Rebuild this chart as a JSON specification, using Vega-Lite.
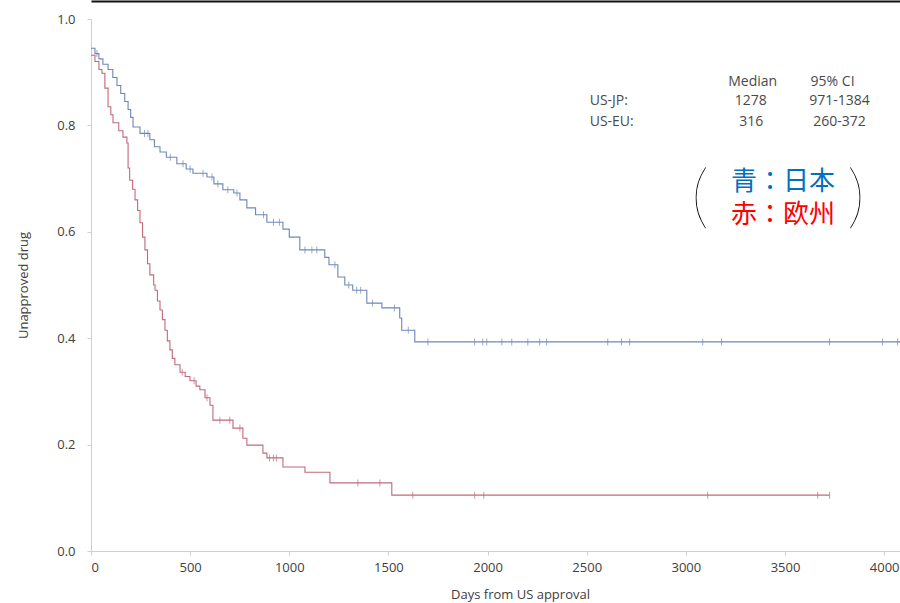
{
  "$schema": "https://vega.github.io/schema/vega-lite/v6.json",
  "width": 809,
  "height": 532,
  "autosize": {"type": "none"},
  "padding": {"left": 91, "top": 19, "right": 0, "bottom": 52},
  "background": "white",
  "config": {"view": {"stroke": null}, "font": "Open Sans"},
  "datasets": {
    "curves": [
      {"group": "US-JP", "day": 0, "surv": 0.945}, {"group": "US-JP", "day": 20, "surv": 0.935}, {"group": "US-JP", "day": 40, "surv": 0.925}, {"group": "US-JP", "day": 60, "surv": 0.915}, {"group": "US-JP", "day": 86, "surv": 0.905}, {"group": "US-JP", "day": 110, "surv": 0.89}, {"group": "US-JP", "day": 131, "surv": 0.875}, {"group": "US-JP", "day": 150, "surv": 0.86}, {"group": "US-JP", "day": 170, "surv": 0.845}, {"group": "US-JP", "day": 187, "surv": 0.83}, {"group": "US-JP", "day": 200, "surv": 0.815}, {"group": "US-JP", "day": 212, "surv": 0.797}, {"group": "US-JP", "day": 247, "surv": 0.785}, {"group": "US-JP", "day": 297, "surv": 0.773}, {"group": "US-JP", "day": 320, "surv": 0.76}, {"group": "US-JP", "day": 348, "surv": 0.75}, {"group": "US-JP", "day": 380, "surv": 0.74}, {"group": "US-JP", "day": 433, "surv": 0.728}, {"group": "US-JP", "day": 480, "surv": 0.718}, {"group": "US-JP", "day": 514, "surv": 0.71}, {"group": "US-JP", "day": 585, "surv": 0.703}, {"group": "US-JP", "day": 620, "surv": 0.69}, {"group": "US-JP", "day": 665, "surv": 0.679}, {"group": "US-JP", "day": 720, "surv": 0.673}, {"group": "US-JP", "day": 751, "surv": 0.66}, {"group": "US-JP", "day": 786, "surv": 0.645}, {"group": "US-JP", "day": 830, "surv": 0.632}, {"group": "US-JP", "day": 887, "surv": 0.618}, {"group": "US-JP", "day": 968, "surv": 0.605}, {"group": "US-JP", "day": 1000, "surv": 0.59}, {"group": "US-JP", "day": 1053, "surv": 0.566}, {"group": "US-JP", "day": 1179, "surv": 0.552}, {"group": "US-JP", "day": 1200, "surv": 0.538}, {"group": "US-JP", "day": 1245, "surv": 0.515}, {"group": "US-JP", "day": 1280, "surv": 0.5}, {"group": "US-JP", "day": 1320, "surv": 0.49}, {"group": "US-JP", "day": 1391, "surv": 0.466}, {"group": "US-JP", "day": 1467, "surv": 0.457}, {"group": "US-JP", "day": 1557, "surv": 0.438}, {"group": "US-JP", "day": 1567, "surv": 0.415}, {"group": "US-JP", "day": 1633, "surv": 0.393}, {"group": "US-JP", "day": 4080, "surv": 0.393},
      {"group": "US-EU", "day": 0, "surv": 0.932}, {"group": "US-EU", "day": 20, "surv": 0.92}, {"group": "US-EU", "day": 40, "surv": 0.905}, {"group": "US-EU", "day": 55, "surv": 0.898}, {"group": "US-EU", "day": 70, "surv": 0.87}, {"group": "US-EU", "day": 86, "surv": 0.835}, {"group": "US-EU", "day": 100, "surv": 0.82}, {"group": "US-EU", "day": 111, "surv": 0.805}, {"group": "US-EU", "day": 140, "surv": 0.79}, {"group": "US-EU", "day": 161, "surv": 0.778}, {"group": "US-EU", "day": 181, "surv": 0.767}, {"group": "US-EU", "day": 187, "surv": 0.72}, {"group": "US-EU", "day": 195, "surv": 0.697}, {"group": "US-EU", "day": 210, "surv": 0.68}, {"group": "US-EU", "day": 222, "surv": 0.66}, {"group": "US-EU", "day": 235, "surv": 0.64}, {"group": "US-EU", "day": 247, "surv": 0.617}, {"group": "US-EU", "day": 260, "surv": 0.59}, {"group": "US-EU", "day": 272, "surv": 0.566}, {"group": "US-EU", "day": 285, "surv": 0.54}, {"group": "US-EU", "day": 297, "surv": 0.519}, {"group": "US-EU", "day": 316, "surv": 0.5}, {"group": "US-EU", "day": 323, "surv": 0.49}, {"group": "US-EU", "day": 335, "surv": 0.47}, {"group": "US-EU", "day": 348, "surv": 0.453}, {"group": "US-EU", "day": 360, "surv": 0.435}, {"group": "US-EU", "day": 373, "surv": 0.415}, {"group": "US-EU", "day": 385, "surv": 0.395}, {"group": "US-EU", "day": 398, "surv": 0.378}, {"group": "US-EU", "day": 410, "surv": 0.362}, {"group": "US-EU", "day": 423, "surv": 0.35}, {"group": "US-EU", "day": 449, "surv": 0.336}, {"group": "US-EU", "day": 475, "surv": 0.328}, {"group": "US-EU", "day": 499, "surv": 0.32}, {"group": "US-EU", "day": 530, "surv": 0.31}, {"group": "US-EU", "day": 549, "surv": 0.303}, {"group": "US-EU", "day": 575, "surv": 0.288}, {"group": "US-EU", "day": 600, "surv": 0.274}, {"group": "US-EU", "day": 615, "surv": 0.246}, {"group": "US-EU", "day": 716, "surv": 0.231}, {"group": "US-EU", "day": 766, "surv": 0.212}, {"group": "US-EU", "day": 786, "surv": 0.199}, {"group": "US-EU", "day": 867, "surv": 0.184}, {"group": "US-EU", "day": 887, "surv": 0.175}, {"group": "US-EU", "day": 968, "surv": 0.158}, {"group": "US-EU", "day": 1079, "surv": 0.148}, {"group": "US-EU", "day": 1205, "surv": 0.128}, {"group": "US-EU", "day": 1517, "surv": 0.105}, {"group": "US-EU", "day": 3725, "surv": 0.105}
    ],
    "censor": [
      {"group": "US-JP", "day": 30, "surv": 0.935}, {"group": "US-JP", "day": 270, "surv": 0.785}, {"group": "US-JP", "day": 287, "surv": 0.785}, {"group": "US-JP", "day": 400, "surv": 0.74}, {"group": "US-JP", "day": 464, "surv": 0.728}, {"group": "US-JP", "day": 500, "surv": 0.718}, {"group": "US-JP", "day": 565, "surv": 0.71}, {"group": "US-JP", "day": 610, "surv": 0.703}, {"group": "US-JP", "day": 640, "surv": 0.69}, {"group": "US-JP", "day": 690, "surv": 0.679}, {"group": "US-JP", "day": 736, "surv": 0.673}, {"group": "US-JP", "day": 870, "surv": 0.632}, {"group": "US-JP", "day": 920, "surv": 0.618}, {"group": "US-JP", "day": 950, "surv": 0.618}, {"group": "US-JP", "day": 1079, "surv": 0.566}, {"group": "US-JP", "day": 1114, "surv": 0.566}, {"group": "US-JP", "day": 1139, "surv": 0.566}, {"group": "US-JP", "day": 1230, "surv": 0.538}, {"group": "US-JP", "day": 1300, "surv": 0.5}, {"group": "US-JP", "day": 1340, "surv": 0.49}, {"group": "US-JP", "day": 1360, "surv": 0.49}, {"group": "US-JP", "day": 1420, "surv": 0.466}, {"group": "US-JP", "day": 1530, "surv": 0.457}, {"group": "US-JP", "day": 1600, "surv": 0.415},
      {"group": "US-JP", "day": 1699, "surv": 0.393}, {"group": "US-JP", "day": 1935, "surv": 0.393}, {"group": "US-JP", "day": 1976, "surv": 0.393}, {"group": "US-JP", "day": 1996, "surv": 0.393}, {"group": "US-JP", "day": 2072, "surv": 0.393}, {"group": "US-JP", "day": 2122, "surv": 0.393}, {"group": "US-JP", "day": 2203, "surv": 0.393}, {"group": "US-JP", "day": 2263, "surv": 0.393}, {"group": "US-JP", "day": 2298, "surv": 0.393}, {"group": "US-JP", "day": 2606, "surv": 0.393}, {"group": "US-JP", "day": 2676, "surv": 0.393}, {"group": "US-JP", "day": 2717, "surv": 0.393}, {"group": "US-JP", "day": 3085, "surv": 0.393}, {"group": "US-JP", "day": 3180, "surv": 0.393}, {"group": "US-JP", "day": 3725, "surv": 0.393}, {"group": "US-JP", "day": 3992, "surv": 0.393}, {"group": "US-JP", "day": 4068, "surv": 0.393},
      {"group": "US-EU", "day": 460, "surv": 0.336}, {"group": "US-EU", "day": 520, "surv": 0.32}, {"group": "US-EU", "day": 585, "surv": 0.288}, {"group": "US-EU", "day": 650, "surv": 0.246}, {"group": "US-EU", "day": 700, "surv": 0.246}, {"group": "US-EU", "day": 751, "surv": 0.231}, {"group": "US-EU", "day": 900, "surv": 0.175}, {"group": "US-EU", "day": 920, "surv": 0.175}, {"group": "US-EU", "day": 935, "surv": 0.175}, {"group": "US-EU", "day": 1346, "surv": 0.128}, {"group": "US-EU", "day": 1457, "surv": 0.128}, {"group": "US-EU", "day": 1623, "surv": 0.105}, {"group": "US-EU", "day": 1935, "surv": 0.105}, {"group": "US-EU", "day": 1981, "surv": 0.105}, {"group": "US-EU", "day": 3110, "surv": 0.105}, {"group": "US-EU", "day": 3665, "surv": 0.105}, {"group": "US-EU", "day": 3725, "surv": 0.105}
    ],
    "tableLeft": [
      {"label": "US-JP:", "day": 2515, "val": 0.846},
      {"label": "US-EU:", "day": 2515, "val": 0.806}
    ],
    "tableCenter": [
      {"label": "Median", "day": 3337, "val": 0.882},
      {"label": "95% CI", "day": 3740, "val": 0.882},
      {"label": "1278", "day": 3327, "val": 0.846},
      {"label": "971-1384", "day": 3775, "val": 0.846},
      {"label": "316", "day": 3330, "val": 0.806},
      {"label": "260-372", "day": 3775, "val": 0.806}
    ],
    "noteJP": [{"label": "青：日本", "day": 3490, "val": 0.6945}],
    "noteEU": [{"label": "赤：欧州", "day": 3490, "val": 0.6316}],
    "brackets": [
      {"label": "(", "day": 3072, "val": 0.662},
      {"label": ")", "day": 3858, "val": 0.662}
    ]
  },
  "resolve": {"axis": {"x": "independent", "y": "independent"}},
  "layer": [
    {
      "data": {"name": "curves"},
      "mark": {"type": "line", "interpolate": "step-after", "strokeWidth": 1.1},
      "encoding": {
        "x": {"field": "day", "type": "quantitative", "scale": {"domain": [0, 4080], "nice": false},
          "axis": {"orient": "bottom", "values": [0, 500, 1000, 1500, 2000, 2500, 3000, 3500, 4000], "format": "d", "grid": false, "title": "Days from US approval", "titleX": 429,
            "domainColor": "#cfcfcf", "tickColor": "#cfcfcf", "tickSize": 4, "labelColor": "#404040", "labelFontSize": 13, "labelPadding": 6,
            "titleColor": "#404040", "titleFontSize": 13, "titleFontWeight": "normal", "titlePadding": 14}},
        "y": {"field": "surv", "type": "quantitative", "scale": {"domain": [0, 1], "nice": false},
          "axis": {"orient": "left", "values": [0, 0.2, 0.4, 0.6, 0.8, 1.0], "format": ".1f", "grid": false, "title": "Unapproved drug",
            "domainColor": "#cfcfcf", "tickColor": "#cfcfcf", "tickSize": 4, "labelColor": "#404040", "labelFontSize": 13, "labelPadding": 12,
            "titleColor": "#404040", "titleFontSize": 13, "titleFontWeight": "normal", "titlePadding": 26}},
        "color": {"field": "group", "type": "nominal", "scale": {"domain": ["US-JP", "US-EU"], "range": ["#7085b8", "#c06a7a"]}, "legend": null},
        "detail": {"field": "group"}
      }
    },
    {
      "data": {"name": "censor"},
      "mark": {"type": "tick", "orient": "vertical", "size": 7, "thickness": 1},
      "encoding": {
        "x": {"field": "day", "type": "quantitative",
          "axis": {"orient": "top", "labels": false, "ticks": false, "title": null, "grid": false, "domainColor": "#111111", "domainWidth": 2, "offset": 18}},
        "y": {"field": "surv", "type": "quantitative", "axis": null},
        "color": {"field": "group", "type": "nominal", "legend": null}
      }
    },
    {
      "data": {"name": "tableLeft"},
      "mark": {"type": "text", "align": "left", "baseline": "middle", "fontSize": 14, "color": "#4a4a4a"},
      "encoding": {
        "x": {"field": "day", "type": "quantitative", "axis": null},
        "y": {"field": "val", "type": "quantitative", "axis": null},
        "text": {"field": "label"}
      }
    },
    {
      "data": {"name": "tableCenter"},
      "mark": {"type": "text", "align": "center", "baseline": "middle", "fontSize": 14, "color": "#4a4a4a"},
      "encoding": {
        "x": {"field": "day", "type": "quantitative", "axis": null},
        "y": {"field": "val", "type": "quantitative", "axis": null},
        "text": {"field": "label"}
      }
    },
    {
      "data": {"name": "noteJP"},
      "mark": {"type": "text", "align": "center", "baseline": "middle", "fontSize": 26, "font": "Noto Sans CJK JP", "color": "#0070c0"},
      "encoding": {
        "x": {"field": "day", "type": "quantitative", "axis": null},
        "y": {"field": "val", "type": "quantitative", "axis": null},
        "text": {"field": "label"}
      }
    },
    {
      "data": {"name": "noteEU"},
      "mark": {"type": "text", "align": "center", "baseline": "middle", "fontSize": 26, "font": "Noto Sans CJK JP", "color": "#ff0000"},
      "encoding": {
        "x": {"field": "day", "type": "quantitative", "axis": null},
        "y": {"field": "val", "type": "quantitative", "axis": null},
        "text": {"field": "label"}
      }
    },
    {
      "data": {"name": "brackets"},
      "mark": {"type": "text", "align": "center", "baseline": "middle", "fontSize": 70, "font": "Lato", "fontWeight": 200, "color": "#000000"},
      "encoding": {
        "x": {"field": "day", "type": "quantitative", "axis": null},
        "y": {"field": "val", "type": "quantitative", "axis": null},
        "text": {"field": "label"}
      }
    }
  ]
}
